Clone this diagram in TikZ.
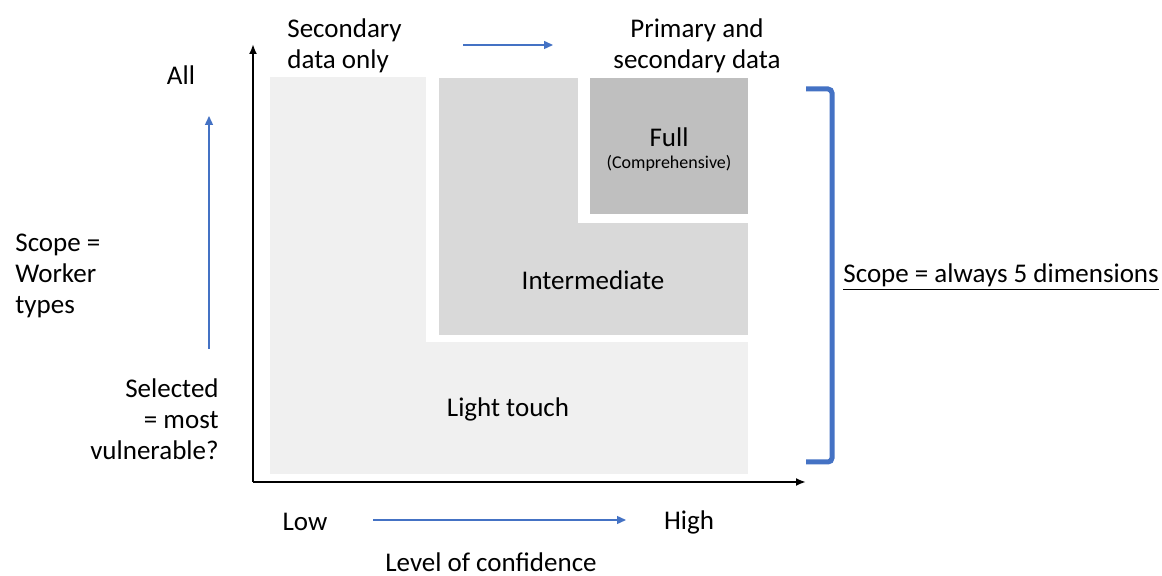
\documentclass[tikz,border=0pt]{standalone}
\usepackage{fontspec}
\setmainfont{Carlito}
\usepackage{tikz}
\usetikzlibrary{arrows.meta}

\definecolor{lightbox}{HTML}{F0F0F0}
\definecolor{midbox}{HTML}{D9D9D9}
\definecolor{fullbox}{HTML}{BFBFBF}
\definecolor{arrowblue}{HTML}{4472C4}

\begin{document}
\begin{tikzpicture}[x=0.5pt,y=-0.5pt,font=\fontsize{13.5}{15.5}\selectfont,
  axis/.style={line width=1.2pt,-{Latex[length=5pt,width=4pt]}},
  bluearrow/.style={arrowblue,line width=0.7pt,-{Triangle[length=4.5pt,width=4pt]}},
  label/.style={inner sep=0pt,align=center}]
\useasboundingbox (0,0) rectangle (1162,576);
% levels of the assessment
\fill[lightbox] (270,77) rectangle (748,474);
\fill[white] (426,77) rectangle (748,342);
\fill[midbox] (439,78) rectangle (748,335);
\fill[white] (578,77) rectangle (748,223);
\fill[fullbox] (590,78) rectangle (748,214);
\node [label] (full) at (669,137) {Full};
\node [label,font=\fontsize{9}{10}\selectfont] (comp) at (669,163) {(Comprehensive)};
\node [label] (inter) at (593,280) {Intermediate};
\node [label] (light) at (508,409) {Light touch};
% axes
\coordinate (o) at (253,482);
\coordinate (ytop) at (253,44);
\coordinate (xend) at (806,482);
\draw [axis] (o) -- (ytop);
\draw [axis] (o) -- (xend);
% top labels
\node [label,align=left,anchor=west] (sec) at (287,46) {Secondary\\data only};
\node [label] (prim) at (697,46) {Primary and\\secondary data};
\coordinate (ta) at (463,45);
\coordinate (tb) at (553,45);
\draw [bluearrow] (ta) -- (tb);
% left labels
\node [label] (all) at (181,75) {All};
\node [label,align=left,anchor=west] (scope) at (15,276) {Scope =\\Worker\\types};
\node [label,align=right,anchor=east] (sel) at (219,419) {Selected\\= most\\vulnerable?};
\coordinate (la) at (209,349);
\coordinate (lb) at (209,116);
\draw [bluearrow] (la) -- (lb);
% bottom labels
\node [label] (low) at (305,522) {Low};
\node [label] (high) at (689,522) {High};
\node [label] (conf) at (491,562) {Level of confidence};
\coordinate (ba) at (373,520);
\coordinate (bb) at (626,520);
\draw [bluearrow] (ba) -- (bb);
% bracket
\draw [arrowblue,line width=2.5pt,rounded corners=2pt] (806,89) -- (832,89) -- (832,462) -- (806,462);
\node [label,anchor=west] (dims) at (843,277) {\underline{Scope = always 5 dimensions}};
\end{tikzpicture}
\end{document}
